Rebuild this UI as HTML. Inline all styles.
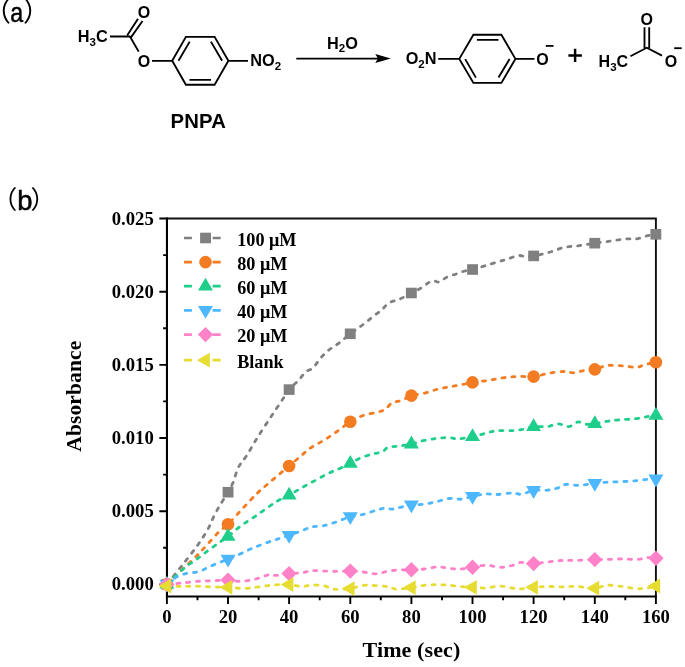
<!DOCTYPE html>
<html><head><meta charset="utf-8"><title>PNPA hydrolysis</title>
<style>
html,body{margin:0;padding:0;background:#fff;}
body{width:685px;height:667px;overflow:hidden;position:relative;}
svg{display:block;position:absolute;left:0;top:0;}
.chem{font-family:"Liberation Sans",Arial,sans-serif;font-weight:bold;fill:#000;}
.ser{font-family:"Liberation Serif","Times New Roman",serif;font-weight:bold;fill:#000;}
.lab{font-family:"Liberation Sans","Noto Sans CJK SC",sans-serif;fill:#000;}
.bond{stroke:#000;stroke-width:1.85;fill:none;stroke-linecap:butt;}
</style></head><body>
<svg width="685" height="667" viewBox="0 0 685 667">
<rect width="685" height="667" fill="#fff"/>

<text class="lab" x="-15.9" y="21.2" font-size="27">（</text>
<text class="lab" transform="translate(10.2,21.5) scale(0.86,1)" font-size="27" stroke="#000" stroke-width="0.5">a</text>
<text class="lab" x="23" y="21.2" font-size="27">）</text>
<text class="lab" x="-8.0" y="209.3" font-size="25.2">（</text>
<text class="lab" x="17.2" y="209.8" font-size="27.4" stroke="#000" stroke-width="0.5">b</text>
<text class="lab" x="30.6" y="209.3" font-size="25.2">）</text>
<g id="scheme" font-size="16">
<text class="chem" x="77.8" y="42" style="font-size:16.3px">H<tspan font-size="11.5" dy="3.5">3</tspan><tspan dy="-3.5">C</tspan></text>
<path class="bond" d="M110,36.5 L130.2,36.5 M130.8,37.6 L142.5,21 M127.3,35.3 L138,18.7 M129.8,36.2 L138.7,51.6 M152,60.8 L172.2,60.8"/>
<text class="chem" x="137.7" y="18.2">O</text>
<text class="chem" x="137.8" y="66.5">O</text>
<path class="bond" stroke-linejoin="miter" d="M172.2,60.8 L185.9,36.8 L214.6,36.8 L228.4,60.8 L214.6,84.7 L185.9,84.7 Z M178.5,60.8 L189.7,41.6 M210.9,41.6 L222.1,60.8 M189.5,79.9 L211,79.9 M228.4,60.8 L248,60.8"/>
<text class="chem" x="250.3" y="66.1" style="font-size:16.3px">NO<tspan font-size="11.5" dy="3.5">2</tspan></text>
<text class="chem" x="170.6" y="127.6" style="font-size:20.3px;letter-spacing:0.15px">PNPA</text>
<path class="bond" style="stroke-width:1.9px" d="M296.3,58.6 L379,58.6"/>
<path d="M390.8,58.6 L375.3,54.1 L377.9,58.6 L375.3,63.1 Z" fill="#000"/>
<text class="chem" x="327.1" y="48.9" style="font-size:16.3px">H<tspan font-size="11.5" dy="3.5">2</tspan><tspan dy="-3.5">O</tspan></text>
<text class="chem" x="405.7" y="64" style="font-size:16.3px">O<tspan font-size="11.5" dy="3.5">2</tspan><tspan dy="-3.5">N</tspan></text>
<path class="bond" d="M438.2,58.9 L459.3,58.9 M459.3,58.9 L473.4,34.7 L501.4,34.7 L515.4,58.9 L501.4,82.9 L473.4,82.9 Z M476.9,39.9 L498.5,39.9 M465.2,59.1 L475.9,77.6 M509.6,59.1 L498.5,77.6 M515.4,58.9 L534.5,58.9"/>
<text class="chem" x="536.2" y="65">O</text>
<path class="bond" style="stroke-width:1.8px" d="M545.8,45.9 L553.5,45.9"/>
<path class="bond" style="stroke-width:2.45px" d="M568.4,55.4 L581.9,55.4 M575.1,48.8 L575.1,62"/>
<text class="chem" x="598.6" y="67">H<tspan font-size="11.5" dy="3.5">3</tspan><tspan dy="-3.5">C</tspan></text>
<path class="bond" d="M630.4,56.2 L646.8,47.8 L662,55.6 M644.5,48 L644.5,27.3 M649.2,48 L649.2,27.3"/>
<text class="chem" x="640.5" y="25">O</text>
<text class="chem" x="664.8" y="67">O</text>
<path class="bond" style="stroke-width:1.8px" d="M674.2,48.2 L681.7,48.2"/>
</g>
<g id="chart">
<path d="M166.95,218.5 L655.9,218.5 L655.9,596.5" fill="none" stroke="#111" stroke-width="1.9"/>
<path d="M166.95,217.55 L166.95,597.5 M165.95,596.5 L656.85,596.5" fill="none" stroke="#000" stroke-width="2.1"/>
<path d="M166.9,596.5 L166.9,603.9 M197.5,596.5 L197.5,600.3 M228.0,596.5 L228.0,603.9 M258.6,596.5 L258.6,600.3 M289.1,596.5 L289.1,603.9 M319.7,596.5 L319.7,600.3 M350.3,596.5 L350.3,603.9 M380.8,596.5 L380.8,600.3 M411.4,596.5 L411.4,603.9 M442.0,596.5 L442.0,600.3 M472.5,596.5 L472.5,603.9 M503.1,596.5 L503.1,600.3 M533.6,596.5 L533.6,603.9 M564.2,596.5 L564.2,600.3 M594.8,596.5 L594.8,603.9 M625.3,596.5 L625.3,600.3 M655.9,596.5 L655.9,603.9 M166.95,584.4 L159.35,584.4 M166.95,547.8 L163.14999999999998,547.8 M166.95,511.2 L159.35,511.2 M166.95,474.6 L163.14999999999998,474.6 M166.95,438.0 L159.35,438.0 M166.95,401.4 L163.14999999999998,401.4 M166.95,364.9 L159.35,364.9 M166.95,328.3 L163.14999999999998,328.3 M166.95,291.7 L159.35,291.7 M166.95,255.1 L163.14999999999998,255.1 M166.95,218.5 L159.35,218.5" fill="none" stroke="#000" stroke-width="1.9"/>
<path d="M166.9,584.2 C169.5,581.0 177.4,571.4 182.4,565.0 C187.4,558.6 192.9,551.8 197.2,545.8 C201.5,539.8 205.1,534.1 208.0,529.0 C210.9,523.9 212.3,519.3 214.5,515.0 C216.7,510.7 219.0,506.8 221.3,503.0 C223.6,499.2 226.1,495.6 228.0,492.2 C230.0,488.8 231.4,486.6 233.1,482.4 C234.8,478.2 236.2,471.7 238.5,467.2 C240.8,462.7 243.4,460.5 246.6,455.6 C249.8,450.7 253.3,444.1 257.4,437.6 C261.4,431.2 266.5,423.5 270.9,416.9 C275.2,410.3 280.5,402.6 283.5,398.0 C286.5,393.4 286.6,392.6 289.1,389.6 C291.7,386.6 295.9,383.1 298.7,380.1 C301.5,377.1 303.4,373.8 305.8,371.8 C308.2,369.8 310.6,370.2 313.0,368.0 C315.4,365.8 317.6,361.6 320.1,358.7 C322.7,355.8 325.2,353.1 328.3,350.5 C331.4,347.9 334.8,346.2 338.5,343.4 C342.2,340.6 346.3,336.9 350.3,333.8 C354.3,330.7 358.8,327.8 362.5,325.0 C366.2,322.2 369.5,319.4 372.7,316.9 C375.9,314.3 379.2,312.0 381.9,309.7 C384.6,307.4 386.1,304.5 389.0,302.8 C391.9,301.1 395.6,300.9 399.3,299.3 C403.0,297.7 407.8,294.9 411.4,293.0 C415.0,291.1 417.3,290.2 420.7,288.2 C424.1,286.2 428.9,281.9 432.0,280.9 C435.1,279.9 436.7,282.6 439.1,282.0 C441.5,281.4 443.4,278.8 446.3,277.4 C449.2,276.0 453.4,275.0 456.5,273.9 C459.6,272.8 462.0,271.7 464.7,271.0 C467.4,270.3 468.2,270.7 472.5,269.5 C476.9,268.3 485.1,265.7 490.7,264.0 C496.3,262.3 501.4,260.9 506.0,259.5 C510.6,258.1 514.9,256.1 518.2,255.6 C521.5,255.1 523.4,256.6 526.0,256.6 C528.6,256.7 529.8,256.6 533.6,255.9 C537.5,255.2 543.9,253.8 549.0,252.4 C554.1,251.0 559.1,248.5 564.2,247.4 C569.3,246.3 574.5,246.3 579.6,245.6 C584.7,244.9 589.7,243.9 594.8,243.2 C599.9,242.4 605.1,241.8 610.2,241.1 C615.3,240.4 621.1,239.4 625.5,239.0 C629.9,238.6 632.7,239.3 636.3,238.8 C639.9,238.3 643.7,236.6 647.0,235.8 C650.3,235.1 654.4,234.6 655.9,234.3" fill="none" stroke="#808080" stroke-width="2.8" stroke-linecap="round" stroke-dasharray="3.1 6.8"/>
<rect x="161.5" y="578.9" width="10.9" height="10.6" fill="#808080"/>
<rect x="222.6" y="486.9" width="10.9" height="10.6" fill="#808080"/>
<rect x="283.7" y="384.3" width="10.9" height="10.6" fill="#808080"/>
<rect x="344.8" y="328.5" width="10.9" height="10.6" fill="#808080"/>
<rect x="405.9" y="287.7" width="10.9" height="10.6" fill="#808080"/>
<rect x="467.1" y="264.2" width="10.9" height="10.6" fill="#808080"/>
<rect x="528.2" y="250.6" width="10.9" height="10.6" fill="#808080"/>
<rect x="589.3" y="237.9" width="10.9" height="10.6" fill="#808080"/>
<rect x="650.4" y="229.0" width="10.9" height="10.6" fill="#808080"/>
<path d="M166.9,584.2 C171.4,580.0 188.0,564.2 193.7,558.7 C199.4,553.2 198.2,554.4 200.9,551.5 C203.6,548.6 206.9,544.8 210.0,541.5 C213.1,538.2 216.3,534.4 219.3,531.5 C222.3,528.6 224.6,527.5 228.0,524.2 C231.4,520.9 236.0,515.6 239.7,511.7 C243.4,507.8 246.9,503.8 250.0,500.6 C253.1,497.4 255.3,495.1 258.0,492.5 C260.7,489.9 263.1,487.9 266.3,485.2 C269.5,482.5 273.2,479.4 277.0,476.2 C280.8,473.0 285.2,469.3 289.1,466.0 C293.0,462.7 296.8,459.4 300.4,456.4 C304.0,453.4 306.8,450.5 310.7,447.8 C314.6,445.1 319.4,443.0 323.8,440.3 C328.2,437.6 332.6,434.6 337.0,431.5 C341.4,428.4 345.9,424.5 350.3,421.8 C354.6,419.1 358.8,417.1 363.2,415.5 C367.6,413.9 372.8,413.4 376.4,412.4 C380.0,411.4 382.4,411.0 385.1,409.4 C387.8,407.8 389.7,403.9 392.4,402.5 C395.1,401.1 398.0,401.8 401.2,400.7 C404.4,399.6 407.5,396.9 411.4,395.6 C415.3,394.4 420.1,394.3 424.5,393.2 C428.9,392.1 433.6,390.2 437.7,389.2 C441.8,388.1 445.4,387.6 449.3,386.9 C453.2,386.2 457.1,385.6 461.0,384.8 C464.9,384.1 468.1,383.1 472.5,382.4 C477.0,381.7 482.5,381.3 487.6,380.5 C492.7,379.7 497.8,378.5 502.9,377.8 C508.0,377.1 513.1,376.6 518.2,376.4 C523.3,376.2 528.5,377.1 533.6,376.6 C538.8,376.1 543.8,374.1 548.9,373.2 C554.0,372.3 560.1,371.6 564.2,371.5 C568.3,371.4 570.3,372.9 573.4,372.8 C576.5,372.7 579.0,371.4 582.6,370.8 C586.2,370.2 590.7,370.3 594.8,369.4 C598.8,368.5 602.4,366.1 607.0,365.5 C611.6,364.9 617.6,365.6 622.5,365.9 C627.4,366.2 632.7,367.6 636.3,367.4 C639.9,367.2 640.7,365.8 644.0,364.9 C647.3,364.0 653.9,362.6 655.9,362.2" fill="none" stroke="#F37B21" stroke-width="2.8" stroke-linecap="round" stroke-dasharray="3.1 6.8"/>
<circle cx="166.9" cy="584.2" r="6.3" fill="#F37B21"/>
<circle cx="228.0" cy="524.2" r="6.3" fill="#F37B21"/>
<circle cx="289.1" cy="466.0" r="6.3" fill="#F37B21"/>
<circle cx="350.3" cy="421.8" r="6.3" fill="#F37B21"/>
<circle cx="411.4" cy="395.6" r="6.3" fill="#F37B21"/>
<circle cx="472.5" cy="382.4" r="6.3" fill="#F37B21"/>
<circle cx="533.6" cy="376.6" r="6.3" fill="#F37B21"/>
<circle cx="594.8" cy="369.4" r="6.3" fill="#F37B21"/>
<circle cx="655.9" cy="362.2" r="6.3" fill="#F37B21"/>
<path d="M166.9,584.2 C169.8,581.5 179.9,571.8 184.5,567.9 C189.1,564.0 191.4,563.1 194.7,560.7 C197.9,558.3 200.6,556.2 204.0,553.6 C207.4,551.0 211.2,548.3 215.2,545.4 C219.2,542.5 223.6,539.8 228.0,536.4 C232.5,533.0 237.1,528.6 241.8,525.2 C246.5,521.8 251.2,519.1 256.0,515.8 C260.8,512.5 266.4,508.3 270.4,505.6 C274.4,502.9 276.9,501.3 280.0,499.6 C283.1,497.9 285.5,497.2 289.1,495.2 C292.8,493.2 297.7,490.0 302.0,487.6 C306.3,485.2 310.6,483.0 315.0,480.6 C319.4,478.2 324.1,475.4 328.2,473.4 C332.3,471.4 336.2,470.1 339.9,468.4 C343.6,466.7 346.6,465.2 350.3,463.4 C353.9,461.6 357.9,459.0 361.8,457.4 C365.7,455.8 370.0,454.7 373.4,453.8 C376.8,452.9 379.8,453.1 382.2,452.0 C384.6,450.9 385.6,448.1 388.0,447.2 C390.4,446.2 392.9,446.8 396.8,446.3 C400.7,445.8 406.8,445.0 411.4,444.0 C416.0,443.0 420.1,441.3 424.5,440.4 C428.9,439.5 433.6,438.9 437.7,438.4 C441.8,437.9 446.1,437.4 449.3,437.5 C452.5,437.6 454.4,438.9 456.6,439.0 C458.8,439.1 459.8,438.7 462.5,438.3 C465.2,437.9 468.6,437.5 472.5,436.6 C476.4,435.8 482.0,434.2 486.0,433.2 C490.0,432.2 492.5,431.1 496.8,430.7 C501.1,430.3 507.4,430.9 512.0,430.6 C516.6,430.4 520.8,429.9 524.4,429.2 C528.0,428.5 529.8,427.0 533.6,426.6 C537.5,426.2 543.3,427.1 547.4,426.6 C551.5,426.1 554.5,423.8 558.1,423.8 C561.7,423.8 565.5,426.9 568.8,426.6 C572.1,426.3 575.2,422.4 578.0,422.0 C580.8,421.6 582.9,423.9 585.7,424.2 C588.5,424.5 591.2,424.1 594.8,423.6 C598.3,423.1 602.9,421.9 607.0,421.3 C611.1,420.7 614.8,420.2 619.4,419.8 C624.0,419.4 630.1,419.3 634.7,418.8 C639.3,418.3 643.5,417.3 647.0,416.7 C650.5,416.1 654.4,415.6 655.9,415.4" fill="none" stroke="#1FCE8B" stroke-width="2.8" stroke-linecap="round" stroke-dasharray="3.1 6.8"/>
<polygon points="166.9,575.8 174.4,588.6 159.4,588.6" fill="#1FCE8B"/>
<polygon points="228.0,528.0 235.5,540.8 220.5,540.8" fill="#1FCE8B"/>
<polygon points="289.1,486.8 296.6,499.6 281.6,499.6" fill="#1FCE8B"/>
<polygon points="350.3,455.0 357.8,467.8 342.8,467.8" fill="#1FCE8B"/>
<polygon points="411.4,435.6 418.9,448.4 403.9,448.4" fill="#1FCE8B"/>
<polygon points="472.5,428.2 480.0,441.0 465.0,441.0" fill="#1FCE8B"/>
<polygon points="533.6,418.2 541.1,431.0 526.1,431.0" fill="#1FCE8B"/>
<polygon points="594.8,415.2 602.3,428.0 587.3,428.0" fill="#1FCE8B"/>
<polygon points="655.9,407.0 663.4,419.8 648.4,419.8" fill="#1FCE8B"/>
<path d="M166.9,584.2 C168.7,582.9 174.0,578.3 177.4,576.5 C180.8,574.7 184.0,574.0 187.6,573.2 C191.2,572.4 195.2,572.7 198.8,571.6 C202.4,570.5 205.6,568.4 209.0,566.9 C212.4,565.4 216.1,563.9 219.3,562.6 C222.5,561.3 224.6,560.6 228.0,559.2 C231.4,557.8 236.0,555.9 239.7,554.2 C243.4,552.6 246.6,550.8 250.0,549.3 C253.4,547.8 256.4,546.6 260.0,545.2 C263.6,543.8 268.1,542.1 271.4,541.0 C274.7,539.9 277.0,539.3 280.0,538.4 C283.0,537.5 285.5,536.7 289.1,535.4 C292.8,534.1 298.1,532.0 301.9,530.6 C305.7,529.2 308.5,527.7 312.1,526.9 C315.8,526.1 319.7,526.6 323.8,525.7 C327.9,524.8 332.5,523.2 336.9,521.7 C341.3,520.2 345.9,517.8 350.3,516.6 C354.7,515.4 358.8,515.5 363.2,514.4 C367.6,513.3 372.8,511.2 376.4,510.2 C380.0,509.1 382.4,508.3 385.1,508.1 C387.8,507.9 389.7,509.4 392.4,509.2 C395.1,509.0 398.0,507.8 401.2,507.1 C404.4,506.4 407.5,505.4 411.4,504.9 C415.3,504.4 420.1,504.8 424.5,504.2 C428.9,503.6 433.6,502.2 437.7,501.3 C441.8,500.4 445.4,498.9 449.3,498.5 C453.2,498.1 457.1,499.6 461.0,499.2 C464.9,498.8 468.4,497.3 472.5,496.4 C476.7,495.5 482.0,494.3 486.0,494.0 C490.0,493.7 492.5,494.7 496.8,494.5 C501.1,494.3 507.9,493.1 512.0,493.0 C516.1,492.9 517.7,494.6 521.3,494.2 C524.9,493.8 529.3,491.2 533.6,490.5 C538.0,489.8 543.3,490.6 547.4,490.2 C551.5,489.8 554.9,488.8 558.0,487.8 C561.1,486.9 562.2,484.9 565.8,484.5 C569.4,484.1 574.8,485.5 579.6,485.3 C584.4,485.1 590.4,483.8 594.8,483.3 C599.1,482.8 601.5,482.6 605.6,482.3 C609.7,482.0 614.8,481.9 619.4,481.7 C624.0,481.5 628.6,481.4 633.2,481.0 C637.8,480.6 643.2,479.7 647.0,479.4 C650.8,479.1 654.4,479.1 655.9,479.0" fill="none" stroke="#4DB7FF" stroke-width="2.8" stroke-linecap="round" stroke-dasharray="3.1 6.8"/>
<polygon points="166.9,592.6 174.4,579.8 159.4,579.8" fill="#4DB7FF"/>
<polygon points="228.0,567.6 235.5,554.8 220.5,554.8" fill="#4DB7FF"/>
<polygon points="289.1,543.8 296.6,531.0 281.6,531.0" fill="#4DB7FF"/>
<polygon points="350.3,525.0 357.8,512.2 342.8,512.2" fill="#4DB7FF"/>
<polygon points="411.4,513.3 418.9,500.5 403.9,500.5" fill="#4DB7FF"/>
<polygon points="472.5,504.8 480.0,492.0 465.0,492.0" fill="#4DB7FF"/>
<polygon points="533.6,498.9 541.1,486.1 526.1,486.1" fill="#4DB7FF"/>
<polygon points="594.8,491.7 602.3,478.9 587.3,478.9" fill="#4DB7FF"/>
<polygon points="655.9,487.4 663.4,474.6 648.4,474.6" fill="#4DB7FF"/>
<path d="M166.9,584.4 C169.4,584.2 177.0,583.5 182.0,583.0 C187.0,582.5 192.0,581.8 197.0,581.4 C202.0,581.0 206.8,581.0 212.0,580.8 C217.2,580.6 223.4,580.0 228.0,580.1 C232.6,580.2 236.0,581.4 239.7,581.4 C243.4,581.4 246.6,580.9 250.0,580.3 C253.4,579.7 256.8,578.7 260.0,577.7 C263.2,576.8 266.2,575.0 269.0,574.6 C271.8,574.2 273.1,575.6 276.5,575.4 C279.9,575.2 284.9,574.0 289.1,573.6 C293.4,573.2 298.1,573.3 301.9,572.8 C305.7,572.3 308.4,570.9 312.0,570.6 C315.6,570.3 319.6,571.0 323.8,571.1 C328.0,571.2 332.6,571.3 337.0,571.3 C341.4,571.3 345.9,571.0 350.3,571.1 C354.6,571.2 358.8,571.5 363.2,572.0 C367.6,572.5 372.3,573.9 376.4,573.8 C380.5,573.6 384.1,571.8 388.0,571.1 C391.9,570.5 395.8,570.1 399.7,569.9 C403.6,569.7 407.3,569.9 411.4,569.7 C415.5,569.6 420.1,569.5 424.5,569.0 C428.9,568.5 433.6,566.9 437.7,566.8 C441.8,566.7 445.4,568.1 449.3,568.5 C453.2,568.9 457.1,569.2 461.0,569.0 C464.9,568.8 468.4,567.9 472.5,567.3 C476.7,566.7 481.4,565.2 486.0,565.2 C490.6,565.2 495.6,567.2 499.9,567.3 C504.2,567.4 508.4,566.4 512.0,565.6 C515.6,564.8 517.7,562.7 521.3,562.4 C524.9,562.1 529.3,563.7 533.6,563.6 C538.0,563.5 542.8,562.5 547.4,562.0 C552.0,561.5 556.4,560.8 561.2,560.5 C566.1,560.2 570.9,560.5 576.5,560.4 C582.1,560.2 589.7,559.8 594.8,559.6 C599.9,559.5 602.4,559.6 607.0,559.5 C611.6,559.4 617.4,558.9 622.5,558.9 C627.6,558.9 633.7,559.7 637.8,559.5 C641.9,559.3 644.0,557.8 647.0,557.6 C650.0,557.4 654.4,558.2 655.9,558.3" fill="none" stroke="#FF82C8" stroke-width="2.8" stroke-linecap="round" stroke-dasharray="3.1 6.8"/>
<polygon points="166.9,576.7 174.6,584.4 166.9,592.1 159.2,584.4" fill="#FF82C8"/>
<polygon points="228.0,572.4 235.7,580.1 228.0,587.8 220.3,580.1" fill="#FF82C8"/>
<polygon points="289.1,565.9 296.8,573.6 289.1,581.3 281.4,573.6" fill="#FF82C8"/>
<polygon points="350.3,563.4 358.0,571.1 350.3,578.8 342.6,571.1" fill="#FF82C8"/>
<polygon points="411.4,562.0 419.1,569.7 411.4,577.4 403.7,569.7" fill="#FF82C8"/>
<polygon points="472.5,559.6 480.2,567.3 472.5,575.0 464.8,567.3" fill="#FF82C8"/>
<polygon points="533.6,555.9 541.4,563.6 533.6,571.3 525.9,563.6" fill="#FF82C8"/>
<polygon points="594.8,551.9 602.5,559.6 594.8,567.3 587.1,559.6" fill="#FF82C8"/>
<polygon points="655.9,550.6 663.6,558.3 655.9,566.0 648.2,558.3" fill="#FF82C8"/>
<path d="M166.9,586.0 C169.4,586.1 177.0,586.4 182.0,586.4 C187.0,586.4 192.0,586.1 197.0,586.2 C202.0,586.3 206.8,586.8 212.0,587.0 C217.2,587.2 222.9,587.1 228.0,587.3 C233.2,587.5 238.3,588.4 243.0,588.4 C247.7,588.4 251.8,587.7 256.0,587.2 C260.2,586.7 264.3,586.0 268.0,585.6 C271.7,585.2 274.5,584.8 278.0,584.6 C281.5,584.4 285.2,584.3 289.1,584.6 C293.1,584.9 298.1,586.3 301.9,586.4 C305.7,586.5 308.4,585.2 312.0,585.1 C315.6,585.0 320.1,585.0 323.8,585.7 C327.5,586.4 329.6,588.7 334.0,589.2 C338.4,589.7 345.4,589.2 350.3,588.6 C355.1,588.0 358.8,585.8 363.2,585.3 C367.6,584.8 372.3,585.5 376.4,585.7 C380.5,585.9 384.6,586.0 388.0,586.6 C391.4,587.2 392.9,589.0 396.8,589.2 C400.7,589.4 406.8,588.2 411.4,587.6 C416.0,587.0 420.1,585.8 424.5,585.3 C428.9,584.8 433.6,584.7 437.7,584.7 C441.8,584.7 445.4,585.0 449.3,585.3 C453.2,585.6 457.1,586.3 461.0,586.6 C464.9,586.9 468.4,587.1 472.5,587.3 C476.7,587.5 481.4,588.2 486.0,588.0 C490.6,587.8 495.6,586.0 499.9,586.0 C504.2,586.0 508.4,587.5 512.0,588.0 C515.6,588.5 517.7,588.9 521.3,588.8 C524.9,588.7 529.3,587.7 533.6,587.3 C538.0,586.9 542.7,586.6 547.4,586.5 C552.1,586.4 557.1,586.9 562.0,586.9 C566.9,586.9 571.0,586.3 576.5,586.5 C582.0,586.7 589.7,588.4 594.8,588.2 C599.9,588.0 602.4,585.5 607.0,585.2 C611.6,584.9 617.6,585.9 622.5,586.5 C627.4,587.1 632.2,588.5 636.3,588.7 C640.4,589.0 643.7,588.5 647.0,588.0 C650.3,587.5 654.4,586.3 655.9,586.0" fill="none" stroke="#E6DC32" stroke-width="2.8" stroke-linecap="round" stroke-dasharray="3.1 6.8"/>
<polygon points="158.4,586.0 171.2,578.6 171.2,593.4" fill="#E6DC32"/>
<polygon points="219.5,587.3 232.3,579.9 232.3,594.7" fill="#E6DC32"/>
<polygon points="280.6,584.6 293.4,577.2 293.4,592.0" fill="#E6DC32"/>
<polygon points="341.8,588.6 354.6,581.2 354.6,596.0" fill="#E6DC32"/>
<polygon points="402.9,587.6 415.7,580.2 415.7,595.0" fill="#E6DC32"/>
<polygon points="464.0,587.3 476.8,579.9 476.8,594.7" fill="#E6DC32"/>
<polygon points="525.1,587.3 537.9,579.9 537.9,594.7" fill="#E6DC32"/>
<polygon points="586.3,588.2 599.1,580.8 599.1,595.6" fill="#E6DC32"/>
<polygon points="647.4,586.0 660.2,578.6 660.2,593.4" fill="#E6DC32"/>
<text class="ser" x="166.9" y="622.8" font-size="18.7" text-anchor="middle">0</text>
<text class="ser" x="228.0" y="622.8" font-size="18.7" text-anchor="middle">20</text>
<text class="ser" x="289.1" y="622.8" font-size="18.7" text-anchor="middle">40</text>
<text class="ser" x="350.3" y="622.8" font-size="18.7" text-anchor="middle">60</text>
<text class="ser" x="411.4" y="622.8" font-size="18.7" text-anchor="middle">80</text>
<text class="ser" x="472.5" y="622.8" font-size="18.7" text-anchor="middle">100</text>
<text class="ser" x="533.6" y="622.8" font-size="18.7" text-anchor="middle">120</text>
<text class="ser" x="594.8" y="622.8" font-size="18.7" text-anchor="middle">140</text>
<text class="ser" x="655.9" y="622.8" font-size="18.7" text-anchor="middle">160</text>
<text class="ser" x="153.8" y="590.4" font-size="18.7" text-anchor="end">0.000</text>
<text class="ser" x="153.8" y="517.2" font-size="18.7" text-anchor="end">0.005</text>
<text class="ser" x="153.8" y="444.0" font-size="18.7" text-anchor="end">0.010</text>
<text class="ser" x="153.8" y="370.9" font-size="18.7" text-anchor="end">0.015</text>
<text class="ser" x="153.8" y="297.7" font-size="18.7" text-anchor="end">0.020</text>
<text class="ser" x="153.8" y="224.5" font-size="18.7" text-anchor="end">0.025</text>
<text class="ser" x="411.5" y="657" font-size="22" letter-spacing="0.12" text-anchor="middle">Time (sec)</text>
<text class="ser" transform="translate(81,396.2) rotate(-90)" font-size="21.5" letter-spacing="0.12" text-anchor="middle">Absorbance</text>
<path d="M184,238.0 L191.9,238.0 M212.6,238.0 L220.7,238.0" stroke="#808080" stroke-width="2.7" fill="none"/>
<rect x="200.1" y="232.7" width="10.9" height="10.6" fill="#808080"/>
<text class="ser" x="237.2" y="245.8" font-size="18.2">100 μM</text>
<path d="M184,262.1 L191.9,262.1 M212.6,262.1 L220.7,262.1" stroke="#F37B21" stroke-width="2.7" fill="none"/>
<circle cx="205.5" cy="262.1" r="6.3" fill="#F37B21"/>
<text class="ser" x="237.2" y="269.9" font-size="18.2">80 μM</text>
<path d="M184,286.2 L191.9,286.2 M212.6,286.2 L220.7,286.2" stroke="#1FCE8B" stroke-width="2.7" fill="none"/>
<polygon points="205.5,277.8 213.0,290.6 198.0,290.6" fill="#1FCE8B"/>
<text class="ser" x="237.2" y="294.0" font-size="18.2">60 μM</text>
<path d="M184,310.4 L191.9,310.4 M212.6,310.4 L220.7,310.4" stroke="#4DB7FF" stroke-width="2.7" fill="none"/>
<polygon points="205.5,318.8 213.0,306.0 198.0,306.0" fill="#4DB7FF"/>
<text class="ser" x="237.2" y="318.2" font-size="18.2">40 μM</text>
<path d="M184,334.6 L191.9,334.6 M212.6,334.6 L220.7,334.6" stroke="#FF82C8" stroke-width="2.7" fill="none"/>
<polygon points="205.5,326.9 213.2,334.6 205.5,342.3 197.8,334.6" fill="#FF82C8"/>
<text class="ser" x="237.2" y="342.4" font-size="18.2">20 μM</text>
<path d="M184,360.2 L191.9,360.2 M212.6,360.2 L220.7,360.2" stroke="#E6DC32" stroke-width="2.7" fill="none"/>
<polygon points="197.0,360.2 209.8,352.8 209.8,367.6" fill="#E6DC32"/>
<text class="ser" x="237.2" y="368.0" font-size="18.2">Blank</text>
</g>
</svg></body></html>
